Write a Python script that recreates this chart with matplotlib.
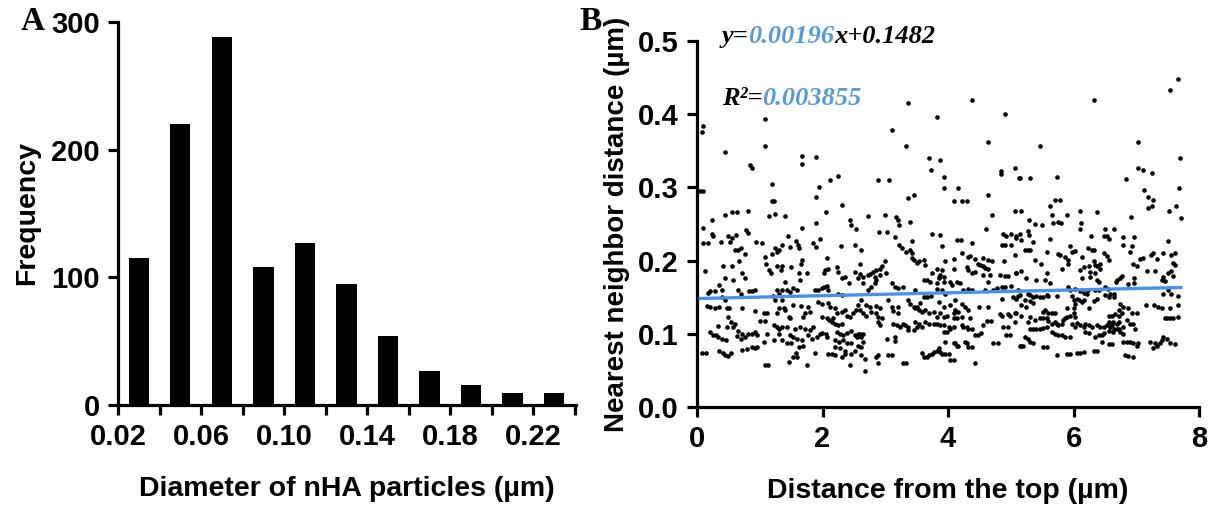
import matplotlib
matplotlib.use("Agg")
import matplotlib.pyplot as plt
import numpy as np

plt.rcParams['font.family'] = ['Liberation Sans', 'DejaVu Sans']
plt.rcParams['font.weight'] = 'bold'

# ---- panel A: size histogram ----
bin_centers = [0.03, 0.05, 0.07, 0.09, 0.11, 0.13, 0.15, 0.17, 0.19, 0.21, 0.23]
frequency = [115, 220, 288, 108, 127, 95, 54, 27, 16, 9, 9]
hist_ticks = [0.02, 0.04, 0.06, 0.08, 0.10, 0.12, 0.14, 0.16, 0.18, 0.20, 0.22, 0.24]
hist_tick_labels = ['0.02', '', '0.06', '', '0.10', '', '0.14', '', '0.18', '', '0.22', '']

# ---- panel B: nearest neighbour distance vs depth ----
seg_a = [(1.08,0.394),(0.10,0.384),(0.08,0.376),(0.44,0.349),(1.08,0.357),(0.85,0.331),(0.88,0.326),(1.20,0.305),
         (1.19,0.282),(1.23,0.282),(0.05,0.295),(0.10,0.295),(0.44,0.263),(0.55,0.266),(0.64,0.266),(0.81,0.268),
         (1.15,0.261),(1.24,0.264),(0.24,0.255),(0.10,0.244),(0.24,0.237),(0.25,0.233),(0.50,0.234),(0.55,0.231),
         (0.62,0.235),(0.78,0.242),(0.81,0.238),(0.10,0.224),(0.17,0.224),(0.38,0.225),(0.53,0.225),(0.60,0.214),
         (0.65,0.214),(0.70,0.217),(0.94,0.225),(1.03,0.224),(0.77,0.209),(1.08,0.205),(1.20,0.209),(1.27,0.212),
         (1.25,0.217),(0.67,0.199),(0.12,0.186),(0.41,0.192),(0.55,0.193),(1.10,0.195),(1.14,0.187),
         (1.18,0.183),(1.27,0.193),(0.71,0.183),(0.77,0.176),(0.45,0.176),(0.58,0.174),(0.35,0.167),(0.40,0.160),
         (0.29,0.158),(0.21,0.158),(0.17,0.156),(0.65,0.160),(0.83,0.158),(0.87,0.158),(0.92,0.160),(0.70,0.155),
         (1.28,0.160),(1.21,0.151),(1.25,0.146),(0.40,0.150),(0.45,0.146),(0.47,0.135),(0.51,0.135),(0.16,0.138),
         (0.21,0.137),(0.28,0.135),(0.35,0.137),(0.71,0.135),(0.92,0.131),(1.06,0.129),(0.50,0.123),(0.54,0.116),
         (0.47,0.110),(0.60,0.114),(0.57,0.109),(0.34,0.111),(0.30,0.098),(0.34,0.096),(0.40,0.093),(0.46,0.092),
         (0.21,0.102),(0.25,0.098),(0.66,0.104),(0.71,0.100),(0.77,0.096),(0.82,0.100),(0.87,0.100),(0.93,0.102),
         (0.95,0.098),(0.63,0.097),(0.70,0.093),(1.11,0.100),(1.22,0.112),(1.27,0.110),(1.30,0.107),(1.23,0.091),
         (1.01,0.118),(1.09,0.117),(1.11,0.128),(1.06,0.089),(0.08,0.074),(0.14,0.074),(0.35,0.077),(0.41,0.074),
         (0.45,0.071),(0.50,0.070),(0.54,0.074),(0.71,0.078),(0.79,0.079),(0.87,0.082),(0.93,0.081),(0.96,0.082),
         (1.08,0.057),(1.13,0.057)]
seg_b = [(1.68,0.343),(1.89,0.342),(1.67,0.332),(2.25,0.316),(2.12,0.310),(1.94,0.301),(1.89,0.287),(2.31,0.276),
         (2.05,0.266),(1.40,0.261),(1.90,0.252),(2.44,0.256),(2.45,0.249),(2.53,0.243),(1.67,0.244),(1.45,0.233),
         (1.57,0.227),(1.61,0.221),(1.62,0.217),(1.85,0.224),(1.89,0.219),(1.96,0.229),(1.35,0.221),(1.31,0.214),
         (1.48,0.218),(2.29,0.220),(2.52,0.222),(1.67,0.201),(1.66,0.195),(1.35,0.193),(1.34,0.187),(1.50,0.191),
         (2.07,0.204),(2.04,0.187),(2.09,0.188),(2.03,0.183),(2.23,0.191),(2.24,0.184),(2.31,0.176),(2.36,0.177),
         (2.42,0.170),(1.75,0.183),(1.62,0.183),(1.64,0.173),(2.52,0.185),(2.57,0.176),(1.40,0.171),(1.43,0.160),
         (1.48,0.157),(1.30,0.155),(1.35,0.160),(1.53,0.162),(1.60,0.160),(1.88,0.160),(1.93,0.160),
         (1.99,0.162),(2.03,0.164),(2.07,0.165),(2.09,0.160),(2.25,0.155),(2.31,0.153),(1.35,0.146),(1.38,0.135),
         (1.40,0.132),(1.30,0.135),(1.27,0.128),(1.53,0.139),(1.66,0.138),(1.77,0.137),(1.80,0.130),(1.93,0.144),
         (1.99,0.141),(2.09,0.142),(2.12,0.137),(2.20,0.135),(2.23,0.128),(2.31,0.130),(2.36,0.133),(2.39,0.125),
         (2.44,0.123),(2.49,0.128),(2.54,0.132),(1.46,0.123),(1.48,0.122),(1.69,0.123),(1.72,0.128),(1.99,0.123),
         (2.07,0.121),(2.10,0.119),(2.15,0.116),(2.17,0.121),(2.20,0.114),(2.25,0.112),(2.31,0.114),(1.35,0.110),
         (1.43,0.110),(1.56,0.107),(1.64,0.110),(1.72,0.106),(1.85,0.110),(1.80,0.105),(1.99,0.101),(2.05,0.100),
         (2.07,0.096),(2.23,0.103),(2.28,0.100),(2.33,0.099),(2.39,0.101),(2.46,0.104),(2.52,0.099),(2.57,0.100),
         (1.30,0.100),(1.35,0.092),(1.48,0.098),(1.53,0.096),(1.60,0.093),(1.67,0.091),(1.77,0.098),(1.83,0.093),
         (1.91,0.096),(1.96,0.100),(2.20,0.091),(2.26,0.089),(2.33,0.091),(2.39,0.087),(2.45,0.087),(2.20,0.082),
         (2.28,0.080),(2.36,0.077),(1.43,0.087),(1.50,0.087),(1.63,0.082),(1.69,0.083),(1.57,0.074),(1.53,0.069),
         (1.59,0.068),(1.46,0.061),(1.75,0.058),(1.88,0.074),(2.09,0.073),(2.15,0.073),(2.20,0.071),(2.31,0.068),
         (2.36,0.072),(2.45,0.072),(2.52,0.076),(2.44,0.058)]
seg_c = [(3.37,0.416),(3.83,0.396),(3.10,0.379),(3.33,0.356),(3.70,0.340),(3.73,0.324),(2.89,0.310),(3.06,0.310),
         (3.46,0.290),(3.36,0.285),(2.72,0.261),(2.99,0.262),(3.17,0.260),(3.21,0.256),(3.22,0.249),(3.39,0.253),
         (2.90,0.239),(3.03,0.239),(3.16,0.232),(3.75,0.236),(3.42,0.227),(2.62,0.215),(3.22,0.221),(3.26,0.217),
         (3.33,0.212),(3.39,0.215),(3.42,0.210),(3.43,0.204),(3.46,0.201),(3.50,0.197),(3.61,0.201),(3.64,0.194),
         (3.53,0.199),(2.99,0.199),(2.95,0.193),(2.60,0.196),(2.92,0.188),(2.85,0.187),(2.81,0.185),(2.76,0.182),
         (2.72,0.180),(2.84,0.178),(2.86,0.173),(2.83,0.169),(2.92,0.180),(3.01,0.183),(2.60,0.182),(2.65,0.177),
         (3.75,0.183),(3.82,0.189),(3.85,0.178),(3.61,0.173),(3.66,0.173),(3.71,0.171),(3.10,0.170),(3.16,0.164),
         (3.21,0.162),(3.29,0.164),(3.48,0.160),(2.73,0.160),(2.78,0.164),(2.65,0.169),(3.82,0.170),(3.83,0.161),
         (2.62,0.146),(2.70,0.139),(2.76,0.137),(2.86,0.138),(2.92,0.135),(2.78,0.130),(2.85,0.128),(2.89,0.123),
         (2.94,0.121),(2.88,0.116),(2.92,0.112),(2.57,0.139),(2.60,0.132),(2.65,0.128),(2.70,0.125),(3.05,0.146),
         (3.10,0.137),(3.13,0.131),(3.21,0.137),(3.20,0.128),(3.37,0.146),(3.39,0.141),(3.45,0.137),(3.47,0.135),
         (3.50,0.137),(3.55,0.142),(3.61,0.150),(3.66,0.150),(3.73,0.151),(3.53,0.132),(3.58,0.130),(3.63,0.132),
         (3.69,0.128),(3.77,0.130),(3.82,0.123),(3.13,0.114),(3.18,0.112),(3.23,0.110),(3.29,0.114),(3.31,0.112),
         (3.37,0.110),(3.36,0.105),(3.47,0.116),(3.50,0.110),(3.45,0.105),(3.53,0.114),(3.58,0.110),(3.63,0.116),
         (3.69,0.114),(3.77,0.114),(3.83,0.114),(2.60,0.100),(2.65,0.100),(2.55,0.096),(2.62,0.096),(2.64,0.089),
         (2.57,0.084),(2.61,0.082),(3.02,0.093),(3.16,0.096),(3.16,0.090),(2.62,0.071),(2.68,0.066),(2.89,0.071),
         (2.85,0.069),(2.89,0.060),(3.05,0.071),(3.10,0.071),(3.29,0.060),(3.33,0.060),(2.67,0.049),(3.58,0.074),
         (3.62,0.068),(3.66,0.069),(3.70,0.071),(3.74,0.073),(3.78,0.075),(3.83,0.076),(3.85,0.080)]
seg_d = [(4.38,0.419),(4.91,0.400),(4.63,0.362),(3.87,0.338),(3.94,0.314),(3.94,0.299),(4.16,0.299),(4.84,0.322),
         (4.84,0.319),(5.07,0.326),(5.13,0.313),(4.64,0.290),(4.10,0.281),(4.23,0.281),(4.31,0.281),(4.70,0.263),
         (5.07,0.268),(4.60,0.243),(3.87,0.235),(4.15,0.228),(4.21,0.228),(4.38,0.224),(3.91,0.220),(4.88,0.237),
         (4.93,0.234),(5.01,0.236),(5.09,0.233),(4.86,0.221),(4.91,0.221),(5.01,0.221),(4.23,0.210),(4.32,0.205),
         (4.35,0.206),(4.09,0.202),(3.95,0.199),(5.07,0.208),(4.43,0.202),(4.47,0.196),(4.51,0.194),(4.56,0.192),
         (4.59,0.190),(4.64,0.189),(4.56,0.203),(4.63,0.201),(4.70,0.199),(4.90,0.199),(3.90,0.187),(3.87,0.181),
         (3.93,0.178),(3.85,0.176),(4.09,0.188),(4.30,0.191),(4.32,0.187),(4.38,0.183),(4.43,0.185),(4.83,0.180),
         (4.91,0.179),(4.96,0.179),(4.56,0.180),(4.67,0.180),(4.64,0.171),(5.09,0.183),(3.93,0.171),(4.03,0.171),
         (4.06,0.167),(4.14,0.171),(4.19,0.169),(4.86,0.164),(4.91,0.164),(5.01,0.165),(4.24,0.160),(4.32,0.161),
         (4.38,0.160),(4.59,0.160),(4.72,0.160),(4.78,0.162),(3.90,0.160),(3.95,0.155),(4.86,0.147),(5.04,0.150),
         (5.12,0.151),(3.85,0.144),(3.93,0.137),(4.03,0.139),(4.11,0.146),(4.22,0.141),(4.27,0.137),(4.49,0.136),
         (4.64,0.136),(3.87,0.128),(3.93,0.123),(3.98,0.125),(4.09,0.128),(4.11,0.132),(4.16,0.130),(4.22,0.123),
         (4.14,0.122),(4.09,0.121),(4.32,0.132),(4.35,0.121),(4.62,0.118),(4.69,0.118),(4.56,0.112),(4.83,0.127),
         (4.86,0.125),(4.95,0.127),(4.99,0.124),(5.07,0.128),(5.07,0.116),(3.87,0.112),(3.93,0.112),(4.01,0.110),
         (4.03,0.107),(3.98,0.103),(3.93,0.103),(4.09,0.110),(4.22,0.112),(4.24,0.110),(4.30,0.110),(4.32,0.106),
         (4.38,0.106),(4.43,0.098),(4.47,0.099),(4.53,0.101),(4.88,0.110),(4.96,0.110),(4.93,0.098),(4.99,0.098),
         (3.95,0.089),(4.09,0.087),(4.11,0.087),(4.14,0.084),(4.16,0.084),(4.27,0.089),(4.30,0.087),(4.32,0.082),
         (4.38,0.082),(4.72,0.087),(4.80,0.087),(3.87,0.075),(3.90,0.073),(3.95,0.073),(4.01,0.073),(4.03,0.064),
         (4.09,0.064),(4.43,0.060),(5.15,0.083)]
seg_e = [(6.32,0.419),(5.47,0.356),(5.15,0.313),(5.31,0.313),(5.73,0.314),(5.71,0.283),(5.79,0.283),(5.63,0.274),
         (5.17,0.268),(5.65,0.262),(5.68,0.251),(5.76,0.253),(5.80,0.251),(5.89,0.263),(6.10,0.268),(6.12,0.251),
         (6.10,0.243),(6.37,0.266),(5.29,0.255),(5.39,0.250),(5.50,0.249),(5.27,0.240),(5.29,0.235),(5.15,0.236),
         (5.09,0.231),(5.17,0.228),(5.36,0.226),(5.63,0.230),(6.28,0.234),(5.23,0.215),(5.28,0.215),(5.31,0.215),
         (5.57,0.212),(5.94,0.220),(5.98,0.212),(6.02,0.213),(6.23,0.217),(6.30,0.214),(6.33,0.215),(5.76,0.209),
         (5.79,0.208),(5.86,0.205),(5.92,0.201),(5.92,0.196),(6.13,0.205),(6.33,0.199),(6.34,0.194),(6.37,0.193),
         (5.39,0.201),(5.48,0.196),(5.09,0.183),(5.17,0.186),(5.25,0.176),(5.57,0.183),(5.81,0.188),(6.10,0.187),
         (6.16,0.191),(6.24,0.192),(6.26,0.185),(6.34,0.183),(6.37,0.173),(5.41,0.173),(5.55,0.173),(5.63,0.169),
         (6.13,0.176),(6.26,0.178),(5.92,0.164),(5.94,0.160),(6.02,0.161),(6.10,0.159),(6.16,0.156),(6.21,0.155),
         (6.23,0.160),(6.34,0.160),(6.40,0.160),(5.12,0.160),(5.15,0.153),(5.27,0.155),(5.31,0.153),(5.36,0.150),
         (5.41,0.151),(5.47,0.150),(5.52,0.150),(5.57,0.153),(5.60,0.151),(5.73,0.152),(5.09,0.148),(5.17,0.139),
         (5.23,0.146),(5.31,0.145),(5.25,0.137),(5.36,0.142),(5.97,0.151),(6.00,0.146),(6.02,0.141),(6.05,0.148),
         (6.09,0.146),(6.13,0.144),(6.16,0.146),(6.24,0.135),(6.32,0.145),(6.37,0.147),(5.09,0.128),(5.17,0.125),
         (5.31,0.123),(5.28,0.116),(5.39,0.119),(5.47,0.121),(5.52,0.121),(5.57,0.121),(5.60,0.128),(5.52,0.130),
         (5.55,0.132),(5.65,0.128),(5.71,0.129),(5.60,0.118),(5.65,0.114),(5.71,0.116),(5.73,0.114),(5.76,0.112),
         (5.81,0.114),(5.84,0.119),(5.86,0.121),(5.89,0.123),(5.94,0.125),(6.00,0.128),(6.02,0.123),(5.97,0.114),
         (6.02,0.110),(6.05,0.115),(6.10,0.112),(6.16,0.110),(6.18,0.114),(5.89,0.135),(6.00,0.135),(6.24,0.112),
         (6.29,0.110),(6.37,0.112),(5.31,0.107),(5.36,0.107),(5.41,0.107),(5.47,0.107),(5.52,0.108),(5.57,0.110),
         (5.65,0.103),(5.71,0.100),(5.76,0.099),(5.81,0.098),(5.86,0.096),(5.94,0.096),(6.18,0.103),(6.24,0.101),
         (6.34,0.096),(5.23,0.096),(5.28,0.093),(5.31,0.089),(5.36,0.087),(5.20,0.084),(5.17,0.083),(5.52,0.082),
         (5.57,0.082),(5.73,0.071),(5.89,0.073),(5.94,0.073),(6.05,0.074),(6.10,0.074),(6.16,0.075),(6.32,0.077),
         (6.37,0.077)]
seg_f = [(7.66,0.448),(7.54,0.433),(7.03,0.362),(7.70,0.340),(7.03,0.327),(7.10,0.324),(7.25,0.320),(6.83,0.311),
         (7.13,0.296),(7.19,0.287),(7.27,0.283),(7.19,0.272),(7.25,0.274),(7.68,0.299),(7.64,0.274),(7.52,0.268),
         (7.71,0.258),(6.92,0.260),(6.50,0.243),(6.53,0.233),(6.57,0.230),(6.65,0.243),(6.49,0.234),(6.79,0.232),
         (6.97,0.232),(6.79,0.221),(6.93,0.220),(6.90,0.212),(7.50,0.227),(6.48,0.210),(6.53,0.206),(6.56,0.201),
         (6.42,0.196),(6.42,0.189),(7.06,0.202),(7.11,0.203),(7.24,0.208),(7.27,0.210),(7.33,0.202),(7.43,0.211),
         (7.56,0.208),(7.61,0.211),(7.58,0.197),(7.62,0.194),(6.95,0.196),(7.01,0.192),(7.17,0.186),(7.30,0.186),
         (7.50,0.183),(7.56,0.186),(7.59,0.179),(7.43,0.178),(7.41,0.173),(7.46,0.172),(6.70,0.174),(6.74,0.176),
         (6.67,0.171),(6.77,0.179),(6.87,0.168),(6.97,0.176),(6.97,0.169),(6.40,0.171),(6.50,0.164),(6.55,0.161),
         (6.58,0.155),(6.65,0.155),(6.65,0.150),(6.50,0.153),(6.56,0.150),(7.15,0.140),(7.29,0.139),(7.35,0.137),
         (7.41,0.135),(7.43,0.155),(7.50,0.160),(7.56,0.155),(7.67,0.151),(7.54,0.135),(7.66,0.139),(6.74,0.141),
         (6.79,0.137),(6.73,0.132),(6.77,0.128),(6.87,0.135),(6.93,0.128),(7.01,0.128),(6.56,0.125),(6.61,0.125),
         (6.66,0.127),(6.73,0.125),(7.46,0.121),(7.49,0.121),(7.54,0.122),(7.59,0.122),(7.66,0.123),(6.56,0.116),
         (6.63,0.116),(6.69,0.114),(6.72,0.116),(6.61,0.112),(6.85,0.119),(6.90,0.113),(6.95,0.114),(6.98,0.107),
         (6.42,0.110),(6.48,0.110),(6.53,0.112),(6.58,0.110),(6.65,0.107),(6.72,0.107),(6.79,0.110),(6.40,0.099),
         (6.45,0.098),(6.48,0.101),(6.56,0.104),(6.63,0.103),(6.70,0.106),(6.74,0.103),(6.79,0.100),(6.45,0.089),
         (6.56,0.086),(6.61,0.086),(6.79,0.089),(6.85,0.089),(6.90,0.089),(6.95,0.087),(7.01,0.084),(7.03,0.087),
         (6.82,0.071),(6.87,0.070),(6.95,0.069),(7.22,0.089),(7.30,0.087),(7.27,0.081),(7.33,0.083),(7.38,0.087),
         (7.41,0.092),(7.43,0.095),(7.49,0.093),(7.54,0.087),(7.62,0.086)]

fit_slope = 0.00196
fit_intercept = 0.1482
fit_r2 = 0.003855

blue_text = '#5b9bd5'
blue_line = '#4a90e8'

fig = plt.figure(figsize=(12.19, 5.19), dpi=100)

def style_axes(ax):
    for side in ['top', 'right']:
        ax.spines[side].set_visible(False)
    for side in ['left', 'bottom']:
        ax.spines[side].set_linewidth(2.3)
    ax.tick_params(direction='out', length=7, width=2.3, labelsize=21, pad=6)
    for lab in ax.get_xticklabels() + ax.get_yticklabels():
        lab.set_fontweight('bold')

# panel A
axA = fig.add_axes([0.0968, 0.2197, 0.3757, 0.738])
axA.bar(bin_centers, frequency, width=0.0098, color='black')
axA.set_xlim(0.02, 0.2405)
axA.set_ylim(0, 300)
axA.set_yticks([0, 100, 200, 300])
axA.set_xticks(hist_ticks)
axA.set_xticklabels(hist_tick_labels)
style_axes(axA)
axA.set_ylabel('Frequency', fontsize=20.5, fontweight='bold', labelpad=8)
axA.set_xlabel('Diameter of nHA particles (µm)', fontsize=20.5, fontweight='bold', labelpad=18)

# panel B
axB = fig.add_axes([0.5718, 0.2158, 0.4118, 0.705])
pts = np.array(seg_a + seg_b + seg_c + seg_d + seg_e + seg_f)
axB.scatter(pts[:, 0], pts[:, 1], s=11, color='black', linewidths=0, zorder=2)
xs = np.array([pts[:, 0].min(), pts[:, 0].max()])
axB.plot(xs, fit_slope * xs + fit_intercept, color=blue_line, lw=2.4, zorder=3)
axB.set_xlim(0, 8)
axB.set_ylim(0, 0.5)
axB.set_xticks([0, 2, 4, 6, 8])
axB.set_yticks([0.0, 0.1, 0.2, 0.3, 0.4, 0.5])
axB.set_yticklabels(['0.0', '0.1', '0.2', '0.3', '0.4', '0.5'])
style_axes(axB)
axB.set_ylabel('Nearest neighbor distance (µm)', fontsize=20, fontweight='bold', labelpad=6)
axB.set_xlabel('Distance from the top (µm)', fontsize=20.5, fontweight='bold', labelpad=18)

# panel letters
serif = ['Liberation Serif', 'DejaVu Serif']
fig.text(0.017, 0.958, 'A', family=serif, fontsize=24, fontweight='bold', va='center')
fig.text(0.475, 0.958, 'B', family=serif, fontsize=24, fontweight='bold', va='center')

# equation with coloured coefficients
renderer = fig.canvas.get_renderer()

def piece_line(x, y, pieces):
    for s, c in pieces:
        t = fig.text(x, y, s, color=c, family=serif, fontsize=19, fontweight='bold',
                     style='italic', va='center')
        x += t.get_window_extent(renderer).width / fig.bbox.width

piece_line(0.592, 0.929, [('y=', 'black'), ('%.5f' % fit_slope, blue_text),
                         ('x+%.4f' % fit_intercept, 'black')])
piece_line(0.592, 0.811, [('R²=', 'black'), ('%.6f' % fit_r2, blue_text)])

fig.savefig('out.png', dpi=100)
